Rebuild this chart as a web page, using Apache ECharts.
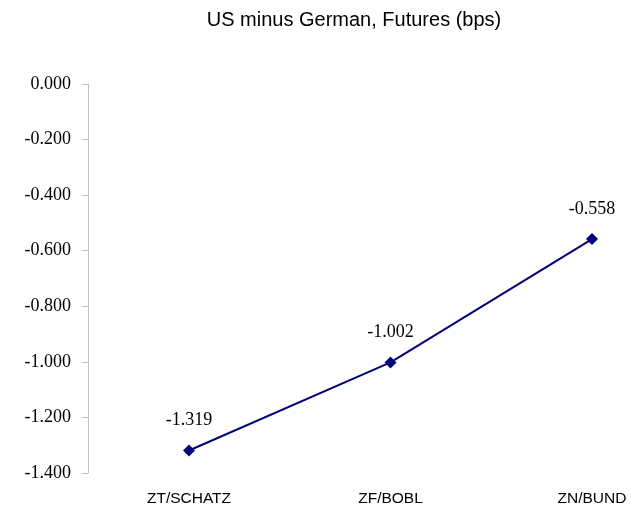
<!DOCTYPE html>
<html>
<head>
<meta charset="utf-8">
<script src="https://cdn.jsdelivr.net/npm/echarts@6/dist/echarts.min.js"></script>
<style>
  html, body { margin: 0; padding: 0; background: #fff; }
  #chart { width: 631px; height: 508px; }
</style>
</head>
<body>
<div id="chart"></div>
<script>
const categories = ['ZT/SCHATZ', 'ZF/BOBL', 'ZN/BUND']
const spread = [-1.319, -1.002, -0.558]

const myEcharts = echarts.init(document.getElementById('chart'))
myEcharts.setOption({
  animation: false,
  backgroundColor: '#fff',
  title: {
    text: 'US minus German, Futures (bps)',
    left: 354,
    top: 10,
    padding: 0,
    textAlign: 'center',
    textStyle: { fontFamily: 'Liberation Sans', fontSize: 20, fontWeight: 'normal', color: '#000' }
  },
  grid: { left: 189, right: 39, top: 84, bottom: 35 },
  xAxis: {
    type: 'category',
    data: categories,
    boundaryGap: false,
    axisLine: { show: false },
    axisTick: { show: false },
    axisLabel: { margin: 18, fontFamily: 'Liberation Sans', fontSize: 15.5, color: '#000' }
  },
  yAxis: {
    type: 'value',
    min: -1.4,
    max: 0,
    interval: 0.2,
    offset: 101,
    splitLine: { show: false },
    axisLine: { show: true, lineStyle: { color: '#c0c0c0', width: 1 } },
    axisTick: { show: true, length: 6, lineStyle: { color: '#c0c0c0' } },
    axisLabel: {
      margin: 17,
      fontFamily: 'Liberation Serif',
      fontSize: 18,
      color: '#000',
      formatter: v => v.toFixed(3)
    }
  },
  series: [
    {
      type: 'line',
      data: spread,
      symbol: 'diamond',
      symbolSize: 12,
      lineStyle: { color: '#000080', width: 2 },
      itemStyle: { color: '#000080' },
      label: {
        show: true,
        position: 'top',
        distance: 15,
        fontFamily: 'Liberation Serif',
        fontSize: 18,
        color: '#000',
        formatter: p => p.value.toFixed(3)
      }
    }
  ]
})
</script>
</body>
</html>
